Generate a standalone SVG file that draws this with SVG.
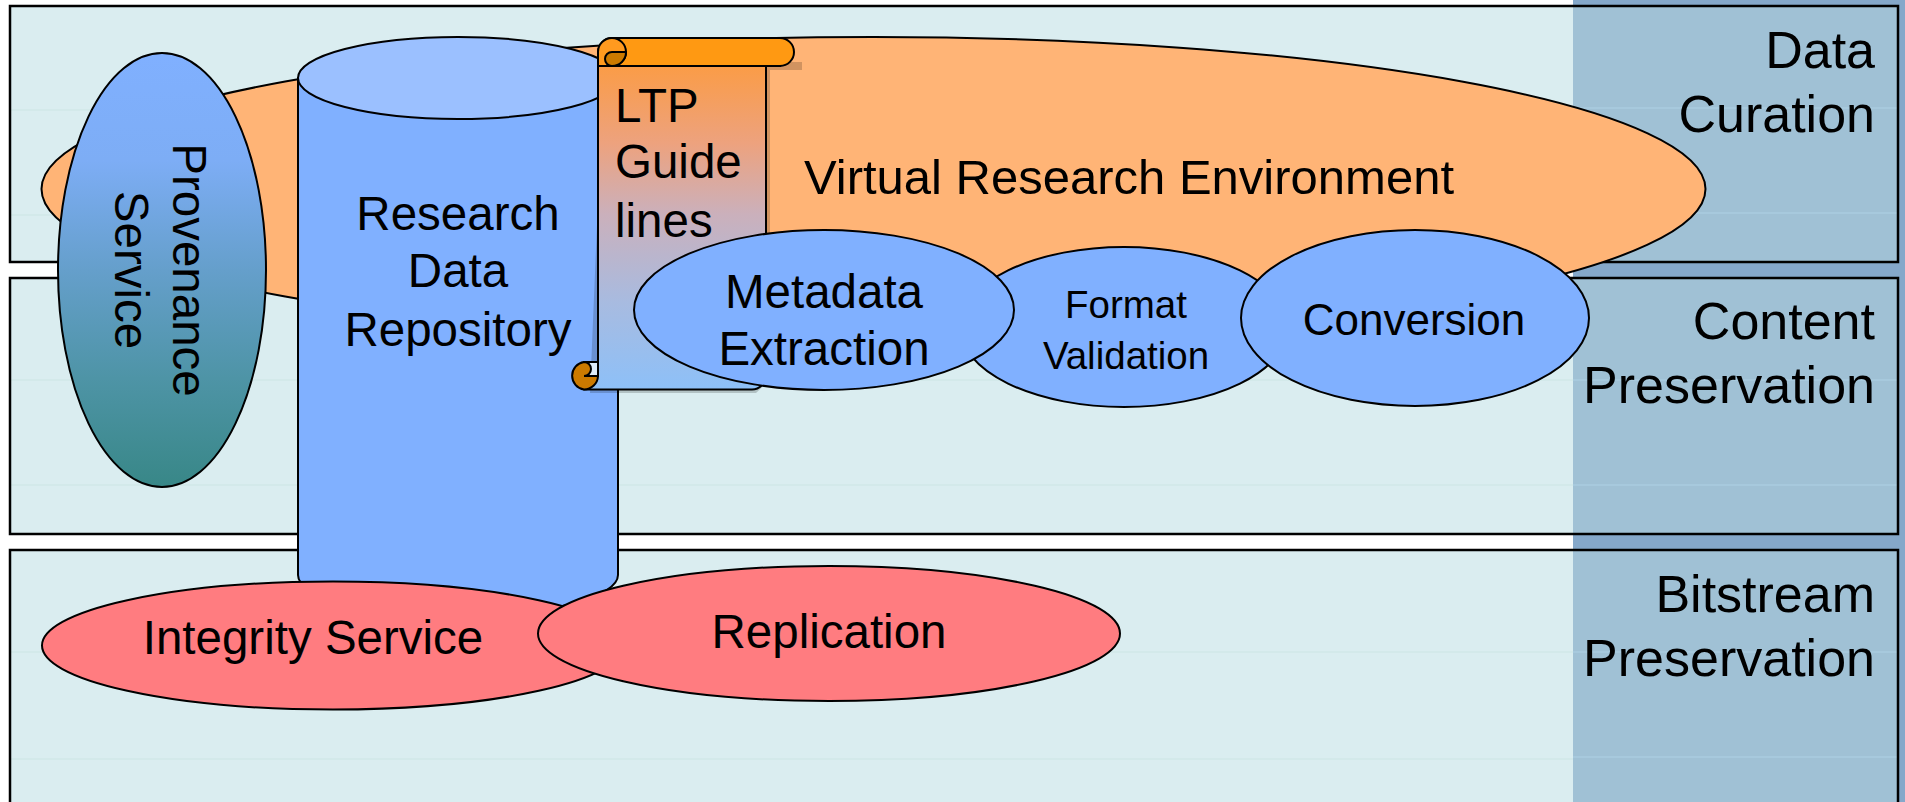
<svg xmlns="http://www.w3.org/2000/svg" width="1905" height="802" viewBox="0 0 1905 802">
<defs>
<linearGradient id="provGrad" x1="0" y1="0" x2="0" y2="1">
<stop offset="0" stop-color="#80B0FF"/><stop offset="0.25" stop-color="#7DADF5"/><stop offset="0.5" stop-color="#659FCB"/><stop offset="0.75" stop-color="#4E94A6"/><stop offset="1" stop-color="#388787"/>
</linearGradient>
<linearGradient id="scrollGrad" x1="0" y1="0" x2="0" y2="1">
<stop offset="0" stop-color="#FF9A33"/><stop offset="0.3" stop-color="#EDA27E"/><stop offset="0.5" stop-color="#CBB0BB"/><stop offset="0.75" stop-color="#A8BBE0"/><stop offset="1" stop-color="#8DC0F8"/>
</linearGradient>
</defs>
<style>
.band{fill:#DAEDF0;stroke:#000;stroke-width:2.5}
.bandr{fill:#A0C1D5;stroke:none}
.frame{fill:none;stroke:#000;stroke-width:2.5}
.gl{stroke:#D1E8E8;stroke-width:1.5}
.glr{stroke:#A9CCDF;stroke-width:1.5}
.sh{stroke:#000;stroke-width:2}
.blue{fill:#80B0FF}
.red{fill:#FF7C80}
text{font-family:"Liberation Sans",Arial,sans-serif;fill:#000}
.lab{font-size:52px;text-anchor:end}
.t47{font-size:47.5px;text-anchor:middle}
</style>

<rect x="1573" y="0" width="332" height="802" fill="#85A8CA"/>

<g id="band-data-curation">
<rect x="10" y="6" width="1563" height="256" fill="#DAEDF0"/>
<rect class="bandr" x="1573" y="6" width="325" height="256"/>
<path class="gl" d="M11 110H1573M11 215H1573"/><path class="glr" d="M1573 108H1897M1573 213H1897"/>
<rect class="frame" x="10" y="6" width="1888" height="256"/>
<text class="lab" x="1875" y="68">Data</text>
<text class="lab" x="1875" y="132">Curation</text>
</g>
<g id="band-content-preservation">
<rect x="10" y="278" width="1563" height="256" fill="#DAEDF0"/>
<rect class="bandr" x="1573" y="278" width="325" height="256"/>
<path class="gl" d="M11 380H1573M11 485H1573"/><path class="glr" d="M1573 380H1897M1573 485H1897"/>
<rect class="frame" x="10" y="278" width="1888" height="256"/>
<text class="lab" x="1875" y="339">Content</text>
<text class="lab" x="1875" y="403">Preservation</text>
</g>
<g id="band-bitstream-preservation">
<rect x="10" y="550" width="1563" height="262" fill="#DAEDF0"/>
<rect class="bandr" x="1573" y="550" width="325" height="262"/>
<path class="gl" d="M11 652H1573M11 759H1573"/><path class="glr" d="M1573 652H1897M1573 757H1897"/>
<rect class="frame" x="10" y="550" width="1888" height="270"/>
<text class="lab" x="1875" y="612">Bitstream</text>
<text class="lab" x="1875" y="676">Preservation</text>
</g>

<g id="connectors"></g>

<g id="node-vre">
<ellipse class="sh" cx="873.500" cy="189" rx="832" ry="152" fill="#FFB476"/>
<text x="1129" y="194" font-size="49" text-anchor="middle">Virtual Research Environment</text>
</g>

<g id="node-provenance">
<ellipse class="sh" cx="162" cy="270" rx="104" ry="217" fill="url(#provGrad)"/>
<text class="t47" transform="translate(173,270) rotate(90)">Provenance</text>
<text class="t47" transform="translate(115,270) rotate(90)">Service</text>
</g>

<g id="node-repository">
<path class="sh blue" d="M298 78V575A160 41 0 0 0 618 575V78Z"/>
<ellipse class="sh" cx="458" cy="78" rx="160" ry="41" fill="#9BC0FF"/>
<text class="t47" x="458" y="230">Research</text>
<text class="t47" x="458" y="287">Data</text>
<text class="t47" x="458" y="346">Repository</text>
</g>

<g id="node-ltp-guidelines">
<path d="M604 56H770V70H802V62H770V380L756 393H590Z" fill="#000" opacity="0.18"/>
<path class="sh" d="M598 52V376H584A14 14 0 0 0 584 389.500H752A14 14 0 0 0 766 376V66H780V38H612A14 14 0 0 0 598 52Z" fill="url(#scrollGrad)"/>
<path class="sh" d="M612 38H780A14 14 0 0 1 780 66H612Z" fill="#FF9912"/>
<path class="sh" d="M612 38A14 14 0 0 0 598 52V66H612A14 14 0 0 0 612 38Z" fill="#FF9A1F"/>
<path class="sh" d="M612 52H626A14 14 0 0 1 612 66A7 7 0 0 1 612 52Z" fill="#CC7A00"/>
<path class="sh" d="M584 362H598V376H584Z" fill="#DCEBFA"/>
<path class="sh" d="M584 362A7 7 0 0 1 584 376H598A14 14 0 0 1 584 389.500A13.900 13.900 0 0 1 584 362Z" fill="#CC7A00"/>
<text x="615" y="122" font-size="47.500">LTP</text>
<text x="615" y="178" font-size="47.500">Guide</text>
<text x="615" y="237" font-size="47.500">lines</text>
</g>

<g id="node-format-validation">
<ellipse class="sh blue" cx="1124" cy="327" rx="164" ry="80"/>
<text x="1126" y="318" font-size="38.500" text-anchor="middle">Format</text>
<text x="1126" y="369" font-size="38.500" text-anchor="middle">Validation</text>
</g>

<g id="node-metadata-extraction">
<ellipse class="sh blue" cx="824" cy="310" rx="190" ry="80"/>
<text class="t47" x="824" y="308">Metadata</text>
<text class="t47" x="824" y="365">Extraction</text>
</g>

<g id="node-conversion">
<ellipse class="sh blue" cx="1415" cy="318" rx="174" ry="88"/>
<text x="1414" y="335" font-size="44" text-anchor="middle">Conversion</text>
</g>

<g id="node-integrity">
<ellipse class="sh red" cx="333" cy="645.500" rx="291" ry="64"/>
<text class="t47" x="313" y="654">Integrity Service</text>
</g>

<g id="node-replication">
<ellipse class="sh red" cx="829" cy="633.500" rx="291" ry="67.500"/>
<text class="t47" x="829" y="648">Replication</text>
</g>
</svg>
